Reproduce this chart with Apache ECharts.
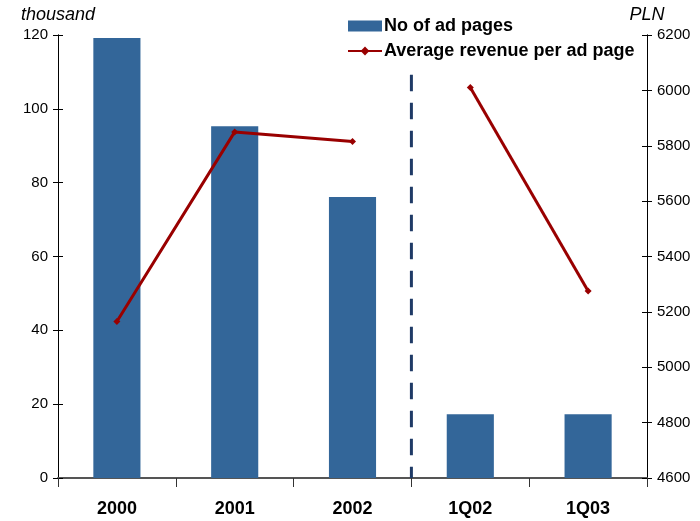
<!DOCTYPE html>
<html>
<head>
<meta charset="utf-8">
<script src="https://cdn.jsdelivr.net/npm/echarts@6/dist/echarts.min.js"></script>
<style>
html,body{margin:0;padding:0;background:#fff;}
#chart{width:700px;height:521px;}
</style>
</head>
<body>
<div id="chart"></div>
<script>
// Periods on the category axis
const categories = ['2000', '2001', '2002', '1Q02', '1Q03'];
// Number of ad pages, thousand
const adPages = [119.2, 95.3, 76.1, 17.3, 17.3];
// Average revenue per ad page, PLN: annual part and quarterly part, drawn as separate segments
const avgRevenue = [5165, 5850, 5815, null, null];
const avgRevenueQ = [null, null, null, 6010, 5275];
// Separator between annual and quarterly periods (x on a 0..5 scale, y in thousand), drawn top-down
const separator = [[3, 109.2], [3, 0]];
// Tick labels
const leftTicks = [0, 20, 40, 60, 80, 100, 120];
const rightTicks = [4600, 4800, 5000, 5200, 5400, 5600, 5800, 6000, 6200];

const font = 'Liberation Sans, Arial, sans-serif';
const chart = echarts.init(document.getElementById('chart'));

const leftRange = { min: leftTicks[0], max: leftTicks[leftTicks.length - 1], interval: leftTicks[1] - leftTicks[0] };
const rightRange = { min: rightTicks[0], max: rightTicks[rightTicks.length - 1], interval: rightTicks[1] - rightTicks[0] };
const tickLabel = { fontFamily: font, fontSize: 15, color: '#000', margin: 10 };
const nameStyle = { fontFamily: font, fontSize: 18, fontStyle: 'italic', color: '#000', align: 'center' };

// Twin axes (same ranges) that draw the inner half of each tick, so ticks cross the axis line
const innerTicks = (range, position) => Object.assign({
  type: 'value', position: position, show: true,
  axisLine: { show: true, onZero: false, lineStyle: { color: '#000' } },
  axisTick: { show: true, inside: true, length: 5, lineStyle: { color: '#000' } },
  axisLabel: { show: false },
  splitLine: { show: false }
}, range);

chart.setOption({
  animation: false,
  grid: { left: 58, right: 53, top: 35, bottom: 43 },
  legend: {
    orient: 'vertical',
    left: 342,
    top: 12,
    itemGap: 7,
    itemWidth: 34,
    itemHeight: 11,
    textStyle: { fontFamily: font, fontSize: 18, fontWeight: 'bold', color: '#000', padding: [0, 0, 0, -3] },
    data: [
      { name: 'No of ad pages', icon: 'rect' },
      { name: 'Average revenue per ad page' }
    ]
  },
  xAxis: [
    {
      type: 'category',
      data: categories,
      axisLine: { lineStyle: { color: '#555', width: 2 } },
      axisTick: { show: true, length: 9, lineStyle: { color: '#333' } },
      axisLabel: { fontFamily: font, fontSize: 18, fontWeight: 'bold', color: '#000', margin: 22 }
    },
    { type: 'value', min: 0, max: 5, show: false }
  ],
  yAxis: [
    Object.assign({
      type: 'value', position: 'left',
      name: 'thousand', nameLocation: 'end', nameGap: 11, nameTextStyle: nameStyle,
      axisLine: { show: true, onZero: false, lineStyle: { color: '#000' } },
      axisTick: { show: true, length: 5, lineStyle: { color: '#000' } },
      axisLabel: tickLabel,
      splitLine: { show: false }
    }, leftRange),
    Object.assign({
      type: 'value', position: 'right',
      name: 'PLN', nameLocation: 'end', nameGap: 11, nameTextStyle: nameStyle,
      axisLine: { show: true, onZero: false, lineStyle: { color: '#000' } },
      axisTick: { show: true, length: 5, lineStyle: { color: '#000' } },
      axisLabel: Object.assign({ formatter: v => String(v) }, tickLabel),
      splitLine: { show: false }
    }, rightRange),
    innerTicks(leftRange, 'left'),
    innerTicks(rightRange, 'right')
  ],
  series: [
    {
      name: 'No of ad pages',
      type: 'bar',
      data: adPages,
      barWidth: '40%',
      itemStyle: { color: '#336699' }
    },
    {
      name: 'separator',
      type: 'line',
      xAxisIndex: 1,
      yAxisIndex: 2,
      data: separator,
      symbol: 'none',
      silent: true,
      lineStyle: { color: '#1F3A66', width: 3, type: [16.5, 11.5] }
    },
    {
      name: 'Average revenue per ad page',
      type: 'line',
      yAxisIndex: 1,
      data: avgRevenue,
      connectNulls: false,
      symbol: 'diamond',
      symbolSize: 7,
      lineStyle: { color: '#990000', width: 3 },
      itemStyle: { color: '#990000' }
    },
    {
      name: 'Average revenue per ad page',
      type: 'line',
      yAxisIndex: 3,
      data: avgRevenueQ,
      connectNulls: false,
      symbol: 'diamond',
      symbolSize: 7,
      lineStyle: { color: '#990000', width: 3 },
      itemStyle: { color: '#990000' }
    }
  ]
});
</script>
</body>
</html>
